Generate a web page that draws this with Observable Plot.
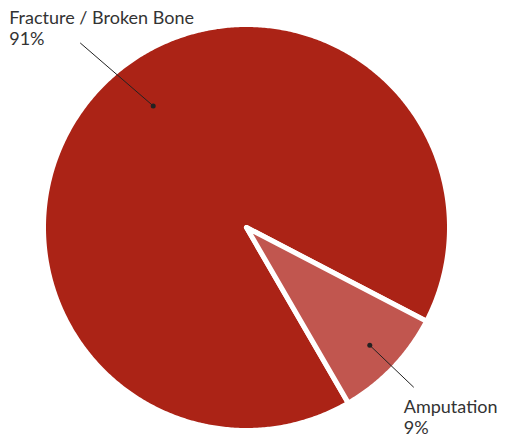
<!DOCTYPE html>
<html><head><meta charset="utf-8">
<script src="https://cdn.jsdelivr.net/npm/d3@7"></script>
<script src="https://cdn.jsdelivr.net/npm/@observablehq/plot@0.6"></script>
<style>html,body{margin:0;padding:0;background:#fff;} #chart svg{display:block;}</style>
</head><body><div id="chart"></div>
<script>
// ---- data ----
const categories = ["Fracture / Broken Bone", "Amputation"];
const shares = [91, 9];
const shareLabels = ["91%", "9%"];
const sliceColors = ["#ab2316", "#c1564f"];

// ---- layout ----
const W = 512, H = 438;
const cx = 246, cy = 227, R = 203;
const startDeg = 149.9;
// label anchor: angle offset from slice middle, dot radius (fraction), leader vector (px), text offset from leader end (px)
const labelAngleOffset = [8.8, 0];
const labelDotR = [0.755, 0.84];
const leaderVec = [[-73, -63], [44, 42]];
const textOffset = [[-71, -34.5], [-10, 10]];

const total = d3.sum(shares);
let acc = startDeg;
const slices = categories.map((c, i) => {
  const a0 = acc, a1 = acc + shares[i] / total * 360;
  acc = a1;
  return {c, i, a0, a1};
});
const rad = d => d * Math.PI / 180;
const pt = (deg, r) => ({x: r * Math.sin(rad(deg)), y: -r * Math.cos(rad(deg))});

const poly = [];
slices.forEach(s => {
  poly.push({c: s.c, ...pt(0, 0)});
  const n = Math.ceil((s.a1 - s.a0) / 0.5);
  for (let k = 0; k <= n; k++) poly.push({c: s.c, ...pt(s.a0 + (s.a1 - s.a0) * k / n, 1)});
  poly.push({c: s.c, ...pt(0, 0)});
});

const labels = slices.map(s => {
  const mid = (s.a0 + s.a1) / 2 + labelAngleOffset[s.i];
  const d = pt(mid, labelDotR[s.i]);
  const x2 = d.x + leaderVec[s.i][0] / R, y2 = d.y + leaderVec[s.i][1] / R;
  return {
    c: s.c, x: d.x, y: d.y, x2, y2,
    tx: x2 + textOffset[s.i][0] / R, ty: y2 + textOffset[s.i][1] / R,
    text: s.c + "\n" + shareLabels[s.i]
  };
});

const chart = Plot.plot({
  width: W, height: H,
  margin: 0,
  x: {domain: [-cx / R, (W - cx) / R], range: [0, W], axis: null},
  y: {domain: [-cy / R, (H - cy) / R], range: [0, H], axis: null},
  color: {domain: categories, range: sliceColors},
  style: {fontFamily: "Lato, sans-serif", background: "#fff"},
  marks: [
    Plot.line(poly, {x: "x", y: "y", z: "c", fill: "c", stroke: "white", strokeWidth: 5, strokeLinejoin: "miter", strokeMiterlimit: 10}),
    Plot.link(labels, {x1: "x", y1: "y", x2: "x2", y2: "y2", stroke: "#222", strokeWidth: 1}),
    Plot.dot(labels, {x: "x", y: "y", r: 2.5, fill: "#222", stroke: null}),
    Plot.text(labels, {x: "tx", y: "ty", text: "text", textAnchor: "start", lineAnchor: "top", lineHeight: 1.2, fontSize: 18, fill: "#333"})
  ]
});
document.getElementById("chart").appendChild(chart);
</script>
</body></html>
